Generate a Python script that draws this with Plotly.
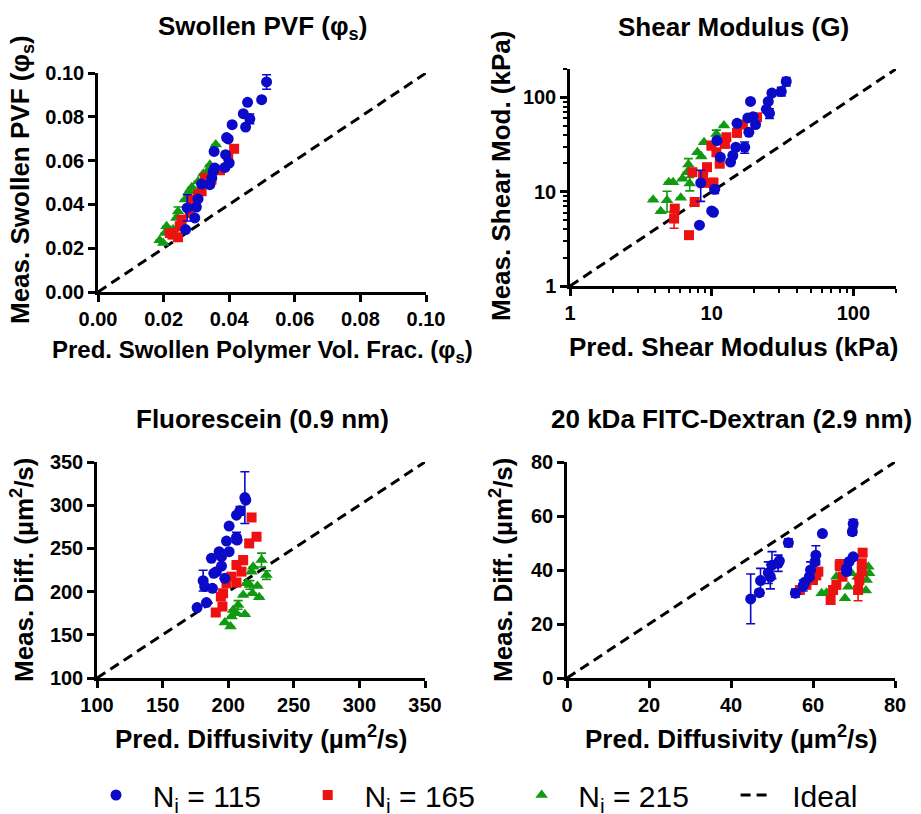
import plotly.graph_objects as go

# ---------------- DATA ----------------
# Panel 1: Swollen PVF
pvf_blue_x = [0.0514, 0.0499, 0.0456, 0.0443, 0.0463, 0.0450, 0.0409, 0.0397, 0.0392, 0.0354, 0.0389, 0.0400,
              0.0387, 0.0356, 0.0351, 0.0347, 0.0341, 0.0316, 0.0305, 0.0300, 0.0272, 0.0295, 0.0267]
pvf_blue_y = [0.0959, 0.0878, 0.0866, 0.0814, 0.0791, 0.0753, 0.0764, 0.0699, 0.0705, 0.0642, 0.0627, 0.0589,
              0.0569, 0.0566, 0.0551, 0.0521, 0.0490, 0.0493, 0.0425, 0.0388, 0.0384, 0.0338, 0.0285]
pvf_blue_e = [0.0033, 0, 0, 0, 0.0022, 0, 0, 0, 0, 0, 0, 0, 0, 0, 0, 0, 0, 0, 0, 0, 0.006, 0, 0]
pvf_red_x = [0.0415, 0.0397, 0.0372, 0.0346, 0.0326, 0.0316, 0.0305, 0.0285, 0.0280, 0.0255, 0.0249, 0.0219,
             0.0244, 0.0227, 0.0335, 0.0292]
pvf_red_y = [0.0654, 0.0619, 0.0556, 0.0513, 0.0521, 0.0460, 0.0444, 0.0422, 0.0361, 0.0330, 0.0300, 0.0269,
             0.0250, 0.0262, 0.0505, 0.0405]
pvf_green_x = [0.0359, 0.0341, 0.0321, 0.0305, 0.0278, 0.0265, 0.0244, 0.0239, 0.0229, 0.0209, 0.0204, 0.0188,
               0.0199, 0.0334, 0.0286]
pvf_green_y = [0.0673, 0.0581, 0.0540, 0.0505, 0.0460, 0.0422, 0.0368, 0.0338, 0.0285, 0.0300, 0.0269, 0.0236,
               0.0224, 0.0553, 0.0478]
pvf_green_e = [0, 0, 0, 0, 0, 0, 0.002, 0, 0, 0, 0, 0, 0, 0, 0]
pvf_ideal = [0.0, 0.1]

# Panel 2: Shear modulus (kPa)
g_blue_x = [33.6, 31.0, 26.6, 25.1, 18.8, 24.3, 25.6, 18.0, 19.6, 20.4, 18.3, 15.1, 17.1, 14.8, 14.1, 13.6,
            10.9, 11.5, 8.37, 10.5, 10.0, 10.3, 8.2]
g_blue_y = [147.6, 115.7, 111.0, 90.7, 90.7, 74.7, 67.7, 60.5, 62.5, 51.5, 42.7, 53.1, 29.6, 29.6, 24.2, 20.6,
            34.8, 23.2, 12.4, 10.6, 6.25, 6.05, 4.41]
g_blue_e = [15, 12, 0, 0, 0, 0, 8, 0, 0, 0, 0, 0, 4, 0, 0, 0, 0, 0, 4.5, 1, 0, 0, 0]
g_red_x = [20.9, 16.6, 15.1, 12.7, 12.4, 9.95, 10.8, 11.4, 9.27, 7.31, 8.69, 9.17, 10.3, 7.59, 5.49, 5.43, 6.92]
g_red_y = [61.5, 51.5, 42.0, 37.8, 32.1, 30.9, 26.2, 19.8, 18.2, 16.1, 14.9, 12.4, 12.4, 7.78, 6.61, 5.19, 3.46]
g_red_e = [0, 0, 0, 0, 0, 3, 0, 0, 0, 0, 0, 0, 1.5, 0, 0, 1.1, 0]
g_green_x = [12.2, 10.8, 8.83, 7.93, 8.45, 6.85, 6.70, 6.21, 7.0, 5.34, 4.98, 3.86, 4.84, 6.05, 4.37]
g_green_y = [50.2, 41.0, 33.5, 26.2, 23.6, 19.4, 16.1, 13.7, 12.2, 12.6, 12.6, 8.23, 8.1, 8.64, 6.2]
g_green_e = [0, 4, 0, 0, 0, 3, 0, 0, 2, 0, 0, 0, 2, 0, 0]
g_ideal = [1, 200]

# Panel 3: Fluorescein diffusivity (um^2/s)
f_blue_x = [212.7, 213.4, 208.9, 206.3, 200.7, 206.3, 198.7, 206.8, 193.1, 200.7, 194.9, 187.2, 194.9, 191.0,
            189.0, 197.4, 180.9, 182.1, 188.0, 183.4, 176.3]
f_blue_y = [308.8, 305.8, 293.5, 288.5, 275.8, 262.7, 258.5, 259.6, 246.2, 246.2, 240.4, 238.5, 229.6, 223.1,
            221.2, 215.4, 212.7, 205.8, 203.8, 187.3, 181.5]
f_blue_e = [30, 0, 5, 0, 0, 6, 0, 0, 0, 0, 0, 0, 0, 0, 0, 0, 12, 0, 0, 0, 0]
f_red_x = [217.8, 221.6, 216.0, 211.4, 206.3, 210.1, 202.5, 206.3, 198.7, 196.1, 194.4, 195.6, 190.5]
f_red_y = [285.8, 263.5, 255.8, 236.5, 230.8, 223.1, 217.3, 210.4, 209.6, 198.1, 194.2, 182.7, 175.8]
f_red_e = [0, 0, 0, 5, 0, 0, 4, 0, 0, 0, 0, 0, 0]
f_green_x = [225.4, 229.2, 219.0, 217.8, 213.9, 216.5, 222.3, 223.6, 218.5, 211.4, 207.6, 203.8, 206.3, 212.7,
             202.5, 197.4, 201.8]
f_green_y = [236.5, 219.2, 228.8, 223.1, 209.6, 207.7, 206.5, 193.5, 198.1, 196.2, 184.6, 178.8, 175.0, 173.8,
             171.2, 164.2, 159.6]
f_green_e = [8, 5, 0, 0, 0, 5, 0, 0, 0, 0, 5, 0, 0, 0, 0, 0, 0]
f_ideal = [100, 350]

# Panel 4: 20 kDa FITC-Dextran diffusivity (um^2/s)
d_blue_x = [44.8, 46.9, 47.2, 49.1, 49.6, 50.0, 51.5, 51.8, 54.0, 62.3, 69.8, 69.6, 55.7, 57.6, 59.1, 59.4,
            60.5, 60.7, 68.2, 68.8, 69.8, 68.2, 58.0]
d_blue_y = [29.3, 31.6, 36.1, 39.0, 37.5, 41.8, 42.5, 43.4, 50.1, 53.5, 57.2, 54.2, 31.4, 34.2, 37.5, 40.0,
            43.1, 45.5, 40.6, 43.1, 44.9, 39.4, 35.5]
d_blue_e = [9.2, 1.2, 4.5, 4, 4.5, 5, 3, 0, 1.5, 0, 1.5, 1.2, 1.5, 2, 0, 3, 0, 3.5, 0, 0, 0, 0, 0]
d_red_x = [56.8, 58.4, 60.0, 61.3, 64.3, 64.9, 65.7, 66.5, 67.2, 71.0, 71.3, 71.9, 72.1, 71.9, 60.8]
d_red_y = [32.6, 34.5, 36.3, 39.4, 28.9, 32.6, 34.5, 41.8, 37.5, 32.6, 36.3, 39.4, 46.4, 42.5, 38.0]
d_red_e = [0, 0, 0, 0, 0, 0, 0, 2, 0, 4, 0, 0, 1, 0, 0]
d_green_x = [62.1, 63.3, 67.8, 68.6, 69.4, 72.9, 73.5, 73.7, 73.1, 65.7, 70.9]
d_green_y = [31.4, 31.6, 29.5, 33.8, 38.8, 32.4, 41.2, 38.8, 36.3, 37.5, 37.5]
d_ideal = [0, 80]

series_names = ["N<sub>i</sub> = 115", "N<sub>i</sub> = 165", "N<sub>i</sub> = 215"]
ideal_name = "Ideal"

# ---------------- STYLE ----------------
W, H = 921, 814
BLUE, RED, GREEN = "#0a0ac8", "#ee1111", "#119911"
FONT = "Liberation Sans, Arial, sans-serif"
LEAD = "\u00a0\u00a0"
TRAIL = "\u00a0" * 5

fig = go.Figure()

panels = [
    dict(ax="", blue=(pvf_blue_x, pvf_blue_y, pvf_blue_e), red=(pvf_red_x, pvf_red_y, None),
         green=(pvf_green_x, pvf_green_y, pvf_green_e), ideal=pvf_ideal),
    dict(ax="2", blue=(g_blue_x, g_blue_y, g_blue_e), red=(g_red_x, g_red_y, g_red_e),
         green=(g_green_x, g_green_y, g_green_e), ideal=g_ideal),
    dict(ax="3", blue=(f_blue_x, f_blue_y, f_blue_e), red=(f_red_x, f_red_y, f_red_e),
         green=(f_green_x, f_green_y, f_green_e), ideal=f_ideal),
    dict(ax="4", blue=(d_blue_x, d_blue_y, d_blue_e), red=(d_red_x, d_red_y, d_red_e),
         green=(d_green_x, d_green_y, None), ideal=d_ideal),
]


def err(e, color):
    if e is None:
        return None
    return dict(type="data", array=e, visible=True, color=color, thickness=1.6, width=4.5)


for i, p in enumerate(panels):
    xa, ya = "x" + p["ax"], "y" + p["ax"]
    first = i == 0
    fig.add_trace(go.Scatter(x=p["ideal"], y=p["ideal"], mode="lines", name=LEAD + ideal_name, legendrank=4,
                             line=dict(color="black", width=3, dash="10px,6px"),
                             xaxis=xa, yaxis=ya, showlegend=first, legendgroup="ideal", cliponaxis=False))
    gx, gy, ge = p["green"]
    fig.add_trace(go.Scatter(x=gx, y=gy, mode="markers", name=LEAD + series_names[2] + TRAIL, legendrank=3,
                             marker=dict(symbol="triangle-up", size=11, color=GREEN),
                             error_y=err(ge, GREEN), xaxis=xa, yaxis=ya, showlegend=first,
                             legendgroup="g", cliponaxis=False))
    rx, ry, re_ = p["red"]
    fig.add_trace(go.Scatter(x=rx, y=ry, mode="markers", name=LEAD + series_names[1] + TRAIL, legendrank=2,
                             marker=dict(symbol="square", size=10, color=RED),
                             error_y=err(re_, RED), xaxis=xa, yaxis=ya, showlegend=first,
                             legendgroup="r", cliponaxis=False))
    bx, by, be = p["blue"]
    fig.add_trace(go.Scatter(x=bx, y=by, mode="markers", name=LEAD + series_names[0] + TRAIL, legendrank=1,
                             marker=dict(symbol="circle", size=11, color=BLUE),
                             error_y=err(be, BLUE), xaxis=xa, yaxis=ya, showlegend=first,
                             legendgroup="b", cliponaxis=False))


def px_dom_x(a, b):
    return [a / W, b / W]


def px_dom_y(top, bottom):
    return [1 - bottom / H, 1 - top / H]


tickfont = dict(family=FONT, size=20, color="black", weight="bold")
axcommon = dict(showline=True, linecolor="black", linewidth=2.5, ticks="outside", ticklen=7,
                tickwidth=2.5, tickcolor="black", showgrid=False, zeroline=False, tickfont=tickfont,
                fixedrange=True, automargin=False)

lin = lambda **kw: {**axcommon, **kw}
minor_log = dict(ticks="outside", ticklen=4, tickwidth=1.5, tickcolor="black", dtick="D1", showgrid=False)

fig.update_layout(
    xaxis=lin(domain=px_dom_x(98, 426), range=[0, 0.1], dtick=0.02, tick0=0, tickformat=".2f", anchor="y"),
    yaxis=lin(domain=px_dom_y(73, 292), range=[0, 0.1], dtick=0.02, tick0=0, tickformat=".2f", anchor="x"),
    xaxis2=lin(domain=px_dom_x(570, 896), type="log", range=[0, 2.30103], dtick=1, tick0=0, anchor="y2",
               minor=minor_log),
    yaxis2=lin(domain=px_dom_y(69, 286), type="log", range=[0, 2.30103], dtick=1, tick0=0, anchor="x2",
               minor=minor_log),
    xaxis3=lin(domain=px_dom_x(97, 425), range=[100, 350], dtick=50, tick0=100, anchor="y3"),
    yaxis3=lin(domain=px_dom_y(462, 678), range=[100, 350], dtick=50, tick0=100, anchor="x3"),
    xaxis4=lin(domain=px_dom_x(567, 895), range=[0, 80], dtick=20, tick0=0, anchor="y4"),
    yaxis4=lin(domain=px_dom_y(462, 678), range=[0, 80], dtick=20, tick0=0, anchor="x4"),
)

# ---------------- TEXT ----------------
bold = dict(family=FONT, size=26, color="black", weight="bold")


def ann(text, x, y, angle=0, size=26):
    f = dict(bold)
    f["size"] = size
    fig.add_annotation(text=text, x=x / W, y=1 - y / H, xref="paper", yref="paper", showarrow=False,
                       xanchor="center", yanchor="middle", textangle=angle, font=f)


ann("Swollen PVF (φ<sub>s</sub>)", 262, 28)
ann("Shear Modulus (G)", 733, 27)
ann("Fluorescein (0.9 nm)", 262, 419)
ann("20 kDa FITC-Dextran (2.9 nm)", 731, 419)

ann("Pred. Swollen Polymer Vol. Frac. (φ<sub>s</sub>)", 262, 351, size=24)
ann("Pred. Shear Modulus (kPa)", 733, 347)
ann("Pred. Diffusivity (µm<sup>2</sup>/s)", 261, 737)
ann("Pred. Diffusivity (µm<sup>2</sup>/s)", 731, 737)

ann("Meas. Swollen PVF (φ<sub>s</sub>)", 22, 180, angle=-90)
ann("Meas. Shear Mod. (kPa)", 501, 176, angle=-90)
ann("Meas. Diff. (µm<sup>2</sup>/s)", 22, 570, angle=-90)
ann("Meas. Diff. (µm<sup>2</sup>/s)", 501, 570, angle=-90)

fig.update_layout(
    width=W, height=H,
    margin=dict(l=0, r=0, t=0, b=0, autoexpand=False),
    paper_bgcolor="white", plot_bgcolor="white",
    showlegend=True,
    legend=dict(orientation="h", x=(118 - 22) / W, y=1 - 795 / H, xanchor="left", yanchor="middle",
                font=dict(family=FONT, size=30, color="black"), entrywidth=0, entrywidthmode="pixels",
                traceorder="normal", bgcolor="rgba(0,0,0,0)", itemclick=False, itemdoubleclick=False),
)

fig.write_html("out.html", config={"displayModeBar": False},
               post_script="document.body.style.margin='0px';document.body.style.overflow='hidden';")
